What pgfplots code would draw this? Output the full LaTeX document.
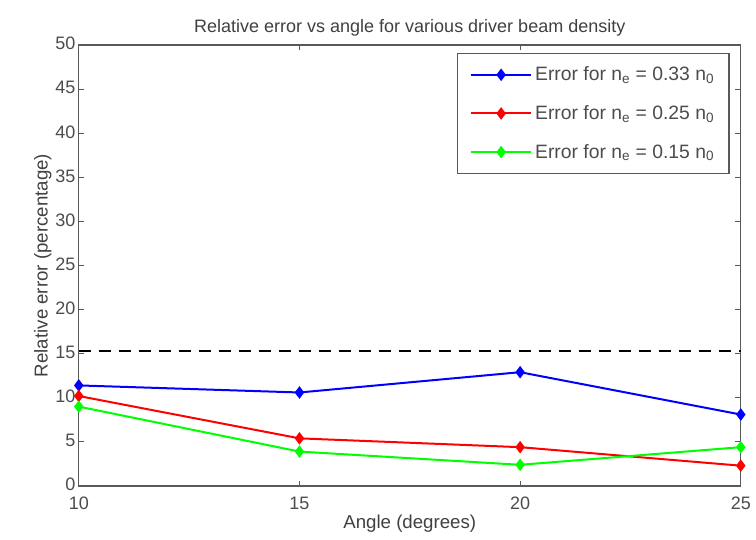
\documentclass[border=0pt]{standalone}
\usepackage{pgfplots}
\pgfplotsset{compat=1.18}
\usepackage{fontspec}
\setmainfont{Liberation Sans}
\begin{document}
\begin{tikzpicture}
\begin{axis}[
    scale only axis,
    width=496.5pt, height=330.75pt,
    xmin=10, xmax=25, ymin=0, ymax=50,
    xtick={10,15,20,25},
    ytick={0,5,...,50},
    tick align=inside,
    major tick length=4pt,
    axis line style={draw=black!65, line width=0.8pt},
    every tick/.style={black!65, line width=0.6pt},
    tick label style={font=\fontsize{13.5}{15}\selectfont, text=black!70},
    xticklabel style={yshift=-5pt},
    yticklabel style={xshift=1pt, yshift=1pt},
    /pgf/number format/assume math mode=true,
    title={Relative error vs angle for various driver beam density},
    title style={font=\fontsize{13.5}{15}\selectfont, text=black!75, yshift=-3pt},
    xlabel={Angle (degrees)},
    ylabel={Relative error (percentage)},
    label style={font=\fontsize{14}{16}\selectfont, text=black!75},
    xlabel style={yshift=3pt},
    ylabel style={yshift=-4pt},
    clip=false,
    legend cell align=left,
    legend style={at={(0.983,0.982)}, anchor=north east,
        draw=black!65, line width=0.8pt,
        font=\fontsize{14.5}{16}\selectfont, text=black!70,
        row sep=13pt, inner xsep=9pt, inner ysep=8pt},
    legend image code/.code={
        \draw[#1] (0cm,0cm) -- (1.6cm,0cm);
        \path[#1] plot coordinates {(0.8cm,0cm)};
    },
]
\addplot[blue, line width=1.5pt, mark=diamond*, mark size=3.5pt] coordinates {
    (10,11.4) (15,10.6) (20,12.9) (25,8.1)};
\addlegendentry{Error for n\textsubscript{e} = 0.33 n\textsubscript{0}}
\addplot[red, line width=1.5pt, mark=diamond*, mark size=3.5pt] coordinates {
    (10,10.2) (15,5.4) (20,4.4) (25,2.3)};
\addlegendentry{Error for n\textsubscript{e} = 0.25 n\textsubscript{0}}
\addplot[green, line width=1.5pt, mark=diamond*, mark size=3.5pt] coordinates {
    (10,9.0) (15,3.9) (20,2.4) (25,4.4)};
\addlegendentry{Error for n\textsubscript{e} = 0.15 n\textsubscript{0}}
\addplot[black, line width=1.8pt, dash pattern=on 9pt off 6pt, forget plot] coordinates {
    (10,15.3) (25,15.3)};
\draw[draw=none] (rel axis cs:-0.119,-0.122) rectangle (rel axis cs:1.023,1.102);
\end{axis}
\end{tikzpicture}
\end{document}
